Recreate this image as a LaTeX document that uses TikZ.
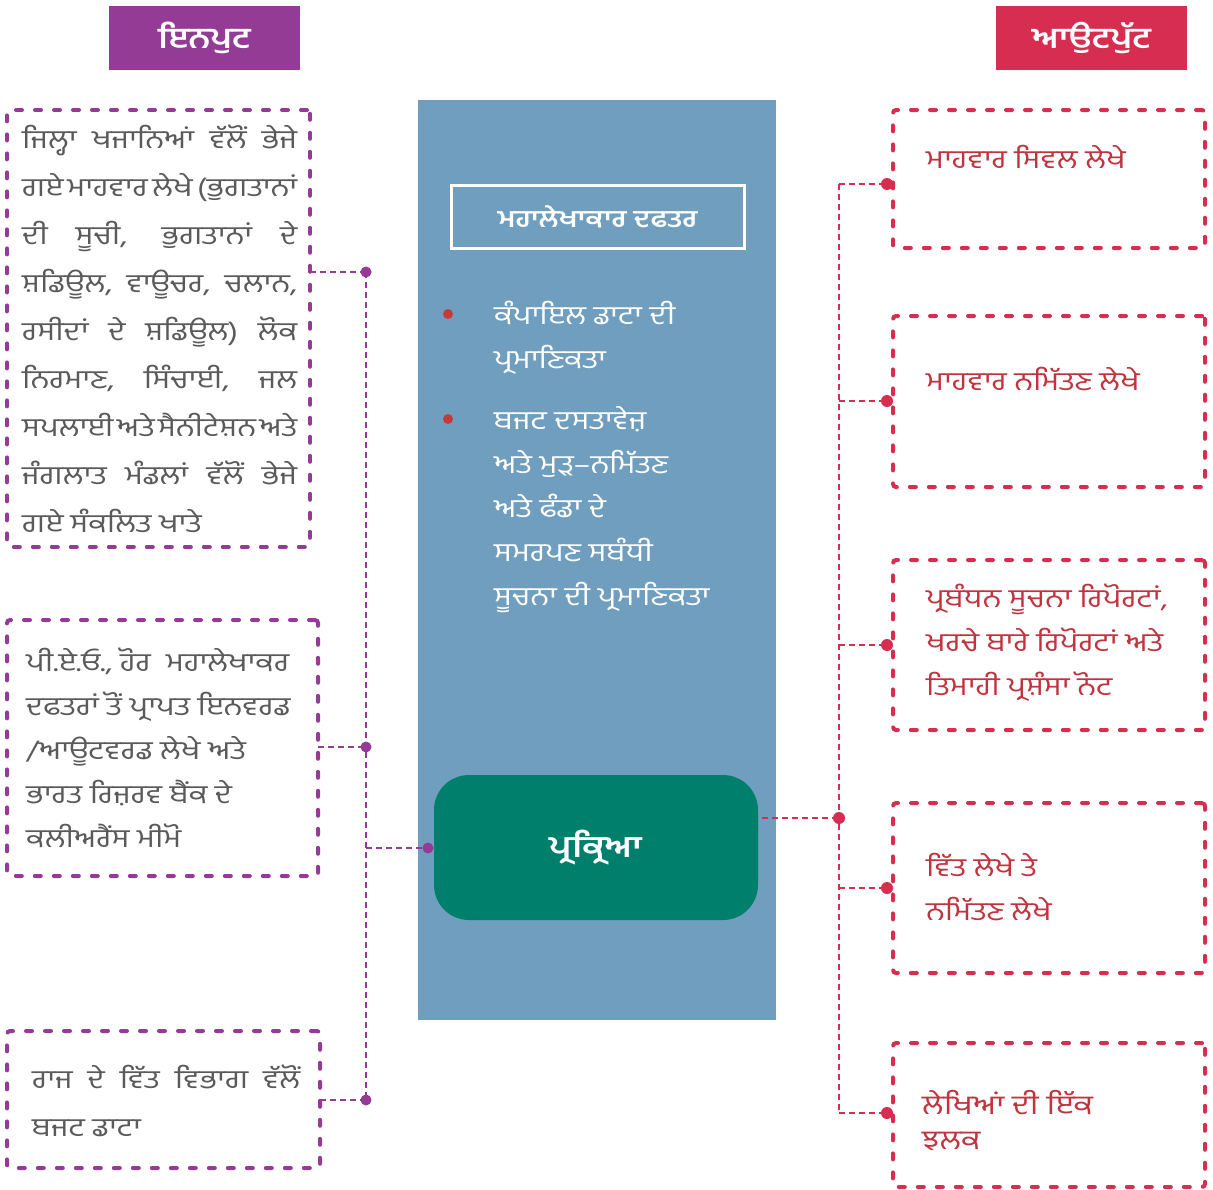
\documentclass[tikz,border=0pt]{standalone}
\usepackage{fontspec}
\newfontfamily\pa[Script=Gurmukhi, FakeStretch=1.2]{Hind Jalandhar}
\usetikzlibrary{positioning}

\definecolor{inpurple}{HTML}{943B96}
\definecolor{outred}{HTML}{D62D50}
\definecolor{midblue}{HTML}{6F9EBE}
\definecolor{procgreen}{HTML}{00806C}
\definecolor{txtgray}{HTML}{5A5A5A}
\definecolor{txtred}{HTML}{C0343F}
\definecolor{dotred}{HTML}{C8393C}

\newcommand{\spread}[2]{\makebox[#1][s]{\spaceskip=0.12em plus 1fil\relax #2}}

\tikzset{
  box/.style={inner sep=0pt, outer sep=0pt},
  inbox/.style={box, draw=inpurple, line width=4pt, line cap=round,
    dash pattern=on 6pt off 13pt, rounded corners=3pt},
  outbox/.style={inbox, draw=outred},
  head/.style={box, text=white, minimum width=191pt, minimum height=64pt,
    font=\pa\bfseries\fontsize{29}{34}\selectfont},
  intext/.style={anchor=base west, inner sep=0pt, text=txtgray,
    font=\pa\fontsize{26}{30}\selectfont},
  midtext/.style={intext, text=white},
  outtext/.style={intext, text=txtred},
  inlink/.style={draw=inpurple, line width=2.5pt, dash pattern=on 6pt off 4pt},
  outlink/.style={inlink, draw=outred},
}

\begin{document}
\begin{tikzpicture}[x=1pt, y=-1pt]
  \useasboundingbox (0,0) rectangle (1213,1189);

  % headers
  \node[head, fill=inpurple] (inhead) at (204.5,38) {ਇਨਪੁਟ};
  \node[head, fill=outred] (outhead) at (1091.5,38) {ਆਉਟਪੁੱਟ};

  % middle column
  \node[box, fill=midblue, minimum width=358pt, minimum height=920pt] (office) at (597,560) {};
  \node[box, draw=white, line width=3pt, minimum width=293pt, minimum height=63pt,
    text=white, font=\pa\bfseries\fontsize{24}{28}\selectfont] (title) at (597.5,216.5) {ਮਹਾਲੇਖਾਕਾਰ ਦਫਤਰ};
  \node[box, fill=procgreen, rounded corners=35pt, minimum width=324pt, minimum height=145pt,
    text=white, font=\pa\bfseries\fontsize{30}{36}\selectfont] (proc) at (596,847.5) {ਪ੍ਰਕ੍ਰਿਆ};
  \fill[dotred] (448,314) circle (5pt) (448,419) circle (5pt);
  \node[midtext] (m1) at (494,324) {ਕੰਪਾਇਲ ਡਾਟਾ ਦੀ};
  \node[midtext] (m2) at (494,368) {ਪ੍ਰਮਾਣਿਕਤਾ};
  \foreach \txt [count=\i] in {ਬਜਟ ਦਸਤਾਵੇਜ਼, ਅਤੇ ਮੁੜ–ਨਮਿੱਤਣ, ਅਤੇ ਫੰਡਾ ਦੇ, ਸਮਰਪਣ ਸਬੰਧੀ, ਸੂਚਨਾ ਦੀ ਪ੍ਰਮਾਣਿਕਤਾ}
    \node[midtext] (m3-\i) at (494,{385+44*\i}) {\txt};

  % input boxes
  \node[inbox, minimum width=303pt, minimum height=437pt] (in1) at (158.5,328.5) {};
  \node[inbox, minimum width=311pt, minimum height=256pt] (in2) at (162.5,748) {};
  \node[inbox, minimum width=313pt, minimum height=137pt] (in3) at (163.5,1099.5) {};
  \foreach \txt [count=\i] in {
      {\spread{275pt}{ਜਿਲ੍ਹਾ ਖਜਾਨਿਆਂ ਵੱਲੋਂ ਭੇਜੇ}},
      {\spread{275pt}{ਗਏ ਮਾਹਵਾਰ ਲੇਖੇ (ਭੁਗਤਾਨਾਂ}},
      {\spread{275pt}{ਦੀ ਸੂਚੀ, ਭੁਗਤਾਨਾਂ ਦੇ}},
      {\spread{275pt}{ਸ਼ਡਿਊਲ, ਵਾਊਚਰ, ਚਲਾਨ,}},
      {\spread{275pt}{ਰਸੀਦਾਂ ਦੇ ਸ਼ਡਿਊਲ) ਲੋਕ}},
      {\spread{275pt}{ਨਿਰਮਾਣ, ਸਿੰਚਾਈ, ਜਲ}},
      {\spread{275pt}{ਸਪਲਾਈ ਅਤੇ ਸੈਨੀਟੇਸ਼ਨ ਅਤੇ}},
      {\spread{275pt}{ਜੰਗਲਾਤ ਮੰਡਲਾਂ ਵੱਲੋਂ ਭੇਜੇ}},
      {ਗਏ ਸੰਕਲਿਤ ਖਾਤੇ}}
    \node[intext] (in1-\i) at (22,{100+48*\i}) {\txt};
  \foreach \txt [count=\i] in {
      {ਪੀ.ਏ.ਓ., ਹੋਰ \ ਮਹਾਲੇਖਾਕਰ},
      {ਦਫਤਰਾਂ ਤੋਂ ਪ੍ਰਾਪਤ ਇਨਵਰਡ},
      {/ਆਊਟਵਰਡ ਲੇਖੇ ਅਤੇ},
      {ਭਾਰਤ ਰਿਜ਼ਰਵ ਬੈਂਕ ਦੇ},
      {ਕਲੀਅਰੈਂਸ ਮੀਮੋ}}
    \node[intext] (in2-\i) at (26,{627+44*\i}) {\txt};
  \node[intext] (in3-1) at (32,1088) {\spread{268pt}{ਰਾਜ ਦੇ ਵਿੱਤ ਵਿਭਾਗ ਵੱਲੋਂ}};
  \node[intext] (in3-2) at (32,1136) {ਬਜਟ ਡਾਟਾ};

  % output boxes
  \node[outbox, minimum width=312pt, minimum height=138pt] (out1) at (1049,179) {};
  \node[outbox, minimum width=312pt, minimum height=171pt] (out2) at (1049,401.5) {};
  \node[outbox, minimum width=312pt, minimum height=170pt] (out3) at (1049,645) {};
  \node[outbox, minimum width=312pt, minimum height=170pt] (out4) at (1049,888) {};
  \node[outbox, minimum width=312pt, minimum height=144pt] (out5) at (1049,1115) {};
  \node[outtext] (o1) at (926,168) {ਮਾਹਵਾਰ ਸਿਵਲ ਲੇਖੇ};
  \node[outtext] (o2) at (926,390) {ਮਾਹਵਾਰ ਨਮਿੱਤਣ ਲੇਖੇ};
  \node[outtext] (o3-1) at (926,607) {ਪ੍ਰਬੰਧਨ ਸੂਚਨਾ ਰਿਪੋਰਟਾਂ,};
  \node[outtext] (o3-2) at (926,651) {ਖਰਚੇ ਬਾਰੇ ਰਿਪੋਰਟਾਂ ਅਤੇ};
  \node[outtext] (o3-3) at (926,695) {ਤਿਮਾਹੀ ਪ੍ਰਸ਼ੰਸਾ ਨੋਟ};
  \node[outtext] (o4-1) at (926,876) {ਵਿੱਤ ਲੇਖੇ ਤੇ};
  \node[outtext] (o4-2) at (926,920) {ਨਮਿੱਤਣ ਲੇਖੇ};
  \node[outtext, font=\pa\fontsize{27}{32}\selectfont] (o5-1) at (922,1114) {ਲੇਖਿਆਂ ਦੀ ਇੱਕ};
  \node[outtext, font=\pa\fontsize{27}{32}\selectfont] (o5-2) at (922,1149) {ਝਲਕ};

  % connectors, left
  \coordinate (din1) at (366,272);
  \coordinate (din2) at (366,747);
  \coordinate (din3) at (366,1100);
  \coordinate (dproc) at (428,848);
  \draw[inlink] (din1) -- (din3);
  \draw[inlink] (in1.east |- din1) -- (din1);
  \draw[inlink] (in2.east |- din2) -- (din2);
  \draw[inlink] (in3.east |- din3) -- (din3);
  \draw[inlink] (din1 |- dproc) -- (dproc);
  \foreach \d in {din1,din2,din3,dproc}
    \fill[inpurple] (\d) circle (5.5pt);

  % connectors, right
  \coordinate (dhub) at (839,818);
  \draw[outlink] ([xshift=4pt]proc.east |- dhub) -- (dhub);
  \foreach \o/\y in {1/184,2/401,3/645,4/888,5/1113}
    \coordinate (dout\o) at (887,\y);
  \draw[outlink] (dhub |- dout1) -- (dhub |- dout5);
  \foreach \o in {1,...,5} {
    \draw[outlink] (dhub |- dout\o) -- (dout\o);
    \fill[outred] (dout\o) circle (6pt);
  }
  \fill[outred] (dhub) circle (6pt);
\end{tikzpicture}
\end{document}
